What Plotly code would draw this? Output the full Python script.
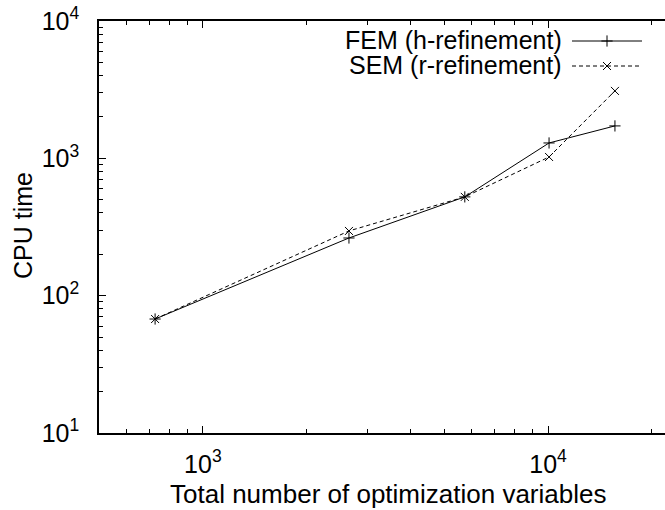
import plotly.graph_objects as go
import math

# Data
n_vars = [727, 2650, 5740, 10070, 15630]
fem_cpu = [67.6, 263, 524, 1294, 1722]
sem_cpu = [67.6, 296, 524, 1023, 3097]
fem_name = "FEM (h-refinement)"
sem_name = "SEM (r-refinement)"
x_title = "Total number of optimization variables"
y_title = "CPU time"
x_tickvals = [1000, 10000]
x_ticktext = ["10<sup>3</sup>", "10<sup>4</sup>"]
y_tickvals = [10, 100, 1000, 10000]
y_ticktext = ["10<sup>1</sup>", "10<sup>2</sup>", "10<sup>3</sup>", "10<sup>4</sup>"]

FONT = "Liberation Sans, Arial, sans-serif"
FS_TICK = 25
FS_TITLE = 26
FS_KEY = 25

x_minor = [600, 700, 800, 900] + [k * 1000 for k in range(2, 10)] + [20000]
y_minor = [k * 10 for k in range(2, 10)] + [k * 100 for k in range(2, 10)] + [k * 1000 for k in range(2, 10)]

W, H = 665, 510
ml, mt, mb, mr = 99, 21, 77, 0
pw = W - ml - mr
ph = H - mt - mb


def px_x(p):
    return (p - ml) / pw


def px_y(p):
    return (H - mb - p) / ph


fig = go.Figure()
fig.add_trace(go.Scatter(
    x=n_vars, y=fem_cpu, mode="lines+markers", name=fem_name,
    line=dict(color="black", width=1),
    marker=dict(symbol="cross-thin", size=8, line=dict(color="black", width=1)),
    showlegend=False,
))
fig.add_trace(go.Scatter(
    x=n_vars, y=sem_cpu, mode="lines+markers", name=sem_name,
    line=dict(color="black", width=1, dash="4px,3px"),
    marker=dict(symbol="x-thin", size=8, line=dict(color="black", width=1)),
    showlegend=False,
))

# manual gnuplot-style key (text left, sample right)
key_rows = [(fem_name, "solid", "cross-thin", 41), (sem_name, "4px,3px", "x-thin", 66)]
for name, dash, sym, yy in key_rows:
    fig.add_annotation(
        xref="paper", yref="paper", x=px_x(564), y=px_y(yy - 1),
        xanchor="right", yanchor="middle", text=name, showarrow=False,
        font=dict(family=FONT, size=FS_KEY, color="black"),
    )
    fig.add_trace(go.Scatter(
        x=[px_x(572), px_x(642)], y=[px_y(yy), px_y(yy)], xaxis="x2", yaxis="y2",
        mode="lines", line=dict(color="black", width=1, dash=dash),
        showlegend=False, hoverinfo="skip",
    ))
    fig.add_trace(go.Scatter(
        x=[px_x(607)], y=[px_y(yy)], xaxis="x2", yaxis="y2",
        mode="markers", marker=dict(symbol=sym, size=8, line=dict(color="black", width=1)),
        showlegend=False, hoverinfo="skip",
    ))

# axis titles
fig.add_annotation(
    xref="paper", yref="paper", x=px_x(388), y=px_y(494),
    xanchor="center", yanchor="middle", text=x_title, showarrow=False,
    font=dict(family=FONT, size=FS_TITLE, color="black"),
)
fig.add_annotation(
    xref="paper", yref="paper", x=px_x(23), y=px_y(226),
    xanchor="center", yanchor="middle", text=y_title, showarrow=False, textangle=-90,
    font=dict(family=FONT, size=FS_TICK, color="black"),
)

fig.update_layout(
    width=W, height=H,
    margin=dict(l=ml, r=mr, t=mt, b=mb),
    paper_bgcolor="white", plot_bgcolor="white",
    font=dict(family=FONT, size=FS_TICK, color="black"),
    xaxis=dict(
        type="log", range=[math.log10(500), 4.339],
        tickvals=x_tickvals, ticktext=x_ticktext,
        ticks="inside", ticklen=7, tickwidth=1, tickcolor="black",
        minor=dict(tickvals=x_minor, ticks="inside", ticklen=4, tickwidth=1, tickcolor="black", showgrid=False),
        showline=True, linecolor="black", linewidth=1.5, mirror="ticks",
        showgrid=False, zeroline=False,
        ticklabelstandoff=8,
        tickfont=dict(family=FONT, size=FS_TICK),
    ),
    yaxis=dict(
        type="log", range=[1, 4],
        tickvals=y_tickvals, ticktext=y_ticktext,
        ticks="inside", ticklen=7, tickwidth=1, tickcolor="black",
        minor=dict(tickvals=y_minor, ticks="inside", ticklen=4, tickwidth=1, tickcolor="black", showgrid=False),
        showline=True, linecolor="black", linewidth=1.5, mirror=False,
        showgrid=False, zeroline=False,
        ticklabelstandoff=13,
        tickfont=dict(family=FONT, size=FS_TICK),
    ),
    xaxis2=dict(overlaying="x", range=[0, 1], visible=False),
    yaxis2=dict(overlaying="y", range=[0, 1], visible=False),
)

fig.write_html("out.html")
